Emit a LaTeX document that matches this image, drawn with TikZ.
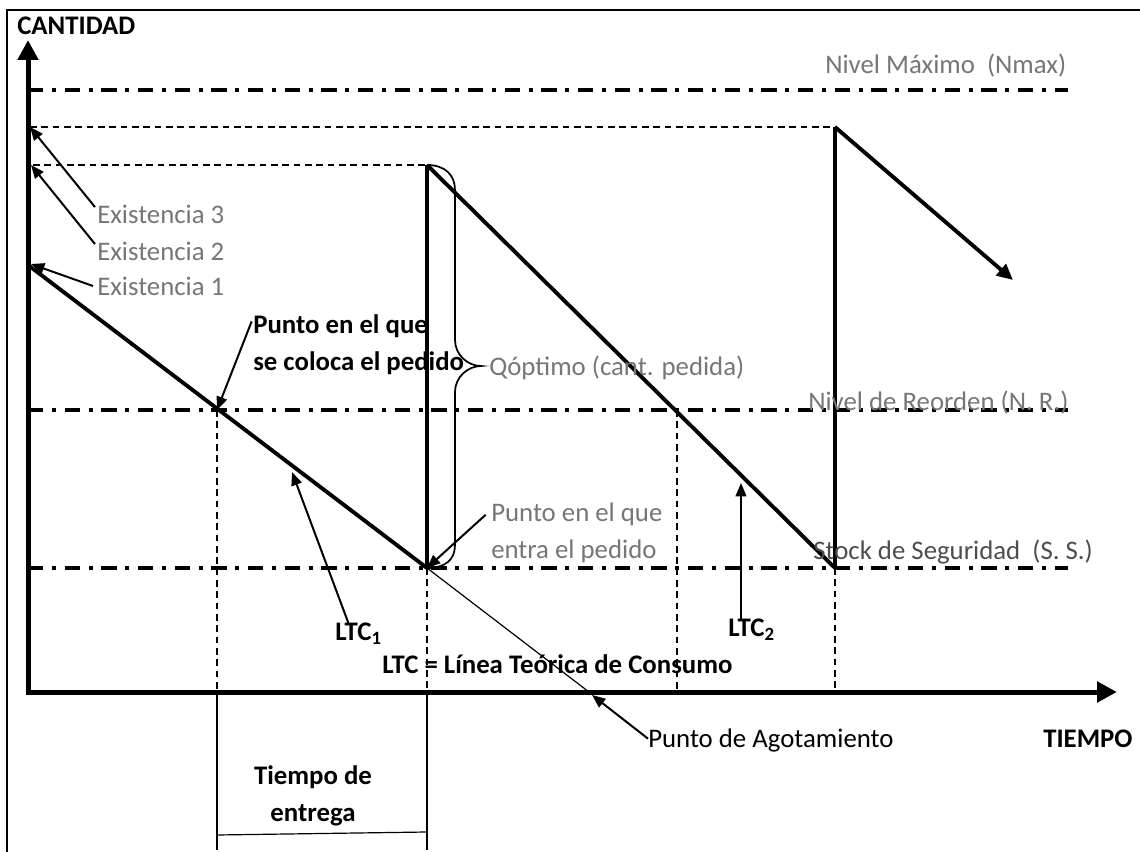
\documentclass[tikz,border=0pt]{standalone}
\usepackage{fontspec}
\setmainfont{Carlito}
\usetikzlibrary{positioning,arrows.meta,calc}
\definecolor{invgray}{HTML}{767676}
\definecolor{invdark}{HTML}{4D4D4D}
\tikzset{
  axisline/.style={line width=3.75pt,-{Triangle[length=15pt,width=15pt]}},
  stockline/.style={line width=2.9pt},
  refill/.style={line width=3.6pt},
  levelline/.style={line width=3pt,dash pattern=on 11.5pt off 6.5pt on 3pt off 6.5pt},
  guide/.style={line width=0.8pt,dash pattern=on 5pt off 3.5pt},
  lead/.style={line width=0.9pt},
  pointer/.style={line width=1.5pt,-{Triangle[length=10pt,width=8pt]}},
  lbl/.style={font=\fontsize{20.1}{27.75}\selectfont,inner sep=0pt,align=left},
  glbl/.style={lbl,text=invgray},
  blbl/.style={lbl,font=\fontsize{20.1}{27.75}\selectfont\bfseries},
}
\begin{document}
\begin{tikzpicture}[x=0.75pt,y=-0.75pt]
    \useasboundingbox (0,0) rectangle (1140,852);
    \draw[line width=1.5pt] (7,852) -- (7,10) -- (1140,10);
    % puntos del grafico
    \coordinate (o) at (28,692);
    \coordinate (ytip) at (28,40);
    \coordinate (xtip) at (1117,692);
    \coordinate (e1) at (28,265);
    \coordinate (ax1) at (31,264);
    \coordinate (ax2) at (31,165);
    \coordinate (ax3) at (30,127);
    \coordinate (top2) at (427,165);
    \coordinate (bot1) at (427,568);
    \coordinate (top3) at (835,127);
    \coordinate (bot2) at (835,568);
    \coordinate (end3) at (1013,280);
    \coordinate (ro1) at (217,410);
    \coordinate (ro2) at (677,410);
    \coordinate (agot) at (589,692);
    \coordinate (agottip) at (592,695);
    \coordinate (l1) at (292,472);
    \coordinate (l2) at (741,483);
    % niveles
    \draw[levelline] (28,90) -- (1068,90);
    \draw[levelline] (28,410) -- (1068,410);
    \draw[levelline] (28,568) -- (1068,568);
    % guias
    \draw[guide] (ax3) -- (top3);
    \draw[guide] (33,165) -- (top2);
    \draw[guide] (ro1) -- (ro1 |- o);
    \draw[guide] (bot1) -- (bot1 |- o);
    \draw[guide] (ro2) -- (ro2 |- o);
    \draw[guide] (bot2) -- (bot2 |- o);
    \draw[lead] (ro1 |- o) -- (217,850);
    \draw[lead] (bot1 |- o) -- (427,850);
    \draw[lead] (217,835) -- (427,832);
    \draw[lead] (bot1) -- (agot);
    % dientes de sierra
    \draw[stockline] (e1) -- (bot1);
    \draw[refill] (bot1) -- (top2);
    \draw[stockline] (top2) -- (bot2);
    \draw[refill] (bot2) -- (top3);
    \draw[stockline,-{Triangle[length=12pt,width=11pt]}] (top3) -- (end3);
    % llave
    \draw[line width=1.3pt] (top2) .. controls (445,165) and (455,175) .. (455,190)
      -- (455,340) .. controls (455,355) and (468,366) .. (481,366)
      .. controls (468,366) and (455,377) .. (455,392)
      -- (455,545) .. controls (455,560) and (445,568) .. (bot1);
    % ejes
    \draw[axisline] (28,694) -- (ytip);
    \draw[axisline] (26,692) -- (xtip);
    % textos
    \node[blbl,anchor=west] (cant) at (17,26) {CANTIDAD};
    \node[blbl,anchor=west] (tiempo) at (1043,739) {TIEMPO};
    \node[glbl,anchor=west] (nmax) at (825,66) {Nivel Máximo~ (Nmax)};
    \node[glbl,anchor=west] (ex3) at (97,214) {Existencia 3};
    \node[glbl,anchor=west] (ex2) at (97,251) {Existencia 2};
    \node[glbl,anchor=west] (ex1) at (97,286) {Existencia 1};
    \node[blbl,anchor=west] (coloca) at (253,345) {Punto en el que\\se coloca el pedido};
    \node[glbl,anchor=west] (qopt) at (489,368) {Qóptimo (cant. pedida)};
    \node[glbl,anchor=west] (nr) at (808,403) {Nivel de Reorden (N. R.)};
    \node[lbl,text=invdark,anchor=west] (ss) at (813,552) {Stock de Seguridad~ (S. S.)};
    \node[glbl,anchor=west] (entra) at (491,533) {Punto en el que\\entra el pedido};
    \node[blbl,anchor=west] (ltc1) at (335,634) {LTC\textsubscript{1}};
    \node[blbl,anchor=west] (ltc2) at (728,630) {LTC\textsubscript{2}};
    \node[blbl,anchor=west] (ltc) at (382,664) {LTC = Línea Teórica de Consumo};
    \node[lbl,anchor=west] (agotlbl) at (648,740) {Punto de Agotamiento};
    \node[blbl,align=center] (entrega) at (313,796) {Tiempo de\\entrega};
    % flechas
    \draw[pointer] ([xshift=-1.5pt,yshift=-2pt]ex3.north west) -- (ax3);
    \draw[pointer] ([xshift=-1.5pt,yshift=-2pt]ex2.north west) -- (ax2);
    \draw[pointer] ([xshift=-3pt]ex1.west) -- (ax1);
    \draw[pointer] ([xshift=-1pt,yshift=-5pt]coloca.north west) -- (ro1);
    \draw[pointer] ([xshift=10pt]ltc1.north west) -- (l1);
    \draw[pointer] (l2 |- ltc2.north) -- (l2);
    \draw[pointer] ([xshift=-4pt,yshift=-9pt]entra.north west) -- (bot1);
    \draw[pointer] ([yshift=1pt]agotlbl.west) -- (agottip);
\end{tikzpicture}
\end{document}
